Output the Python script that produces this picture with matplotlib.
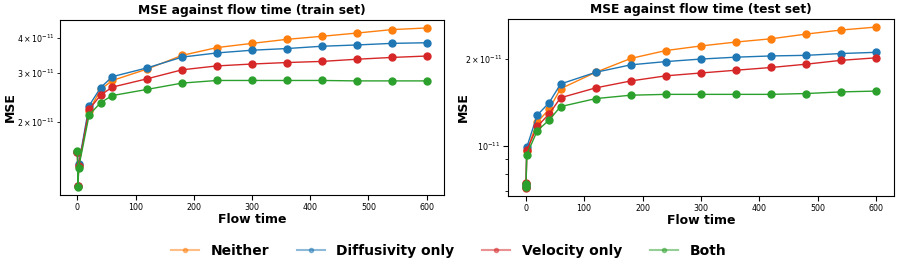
import matplotlib.pyplot as plt
from matplotlib.lines import Line2D

flow_time = [0, 1, 2, 20, 40, 60, 120, 180, 240, 300, 360, 420, 480, 540, 600]
labels = ["Neither", "Diffusivity only", "Velocity only", "Both"]
colors = ["tab:orange", "tab:blue", "tab:red", "tab:green"]

# train set MSE (x 1e-11)
train_neither = [1.56, 1.18, 1.40, 2.20, 2.62, 2.82, 3.10, 3.47, 3.70, 3.83, 3.96, 4.06, 4.17, 4.29, 4.35]
train_diff = [1.56, 1.18, 1.41, 2.29, 2.66, 2.91, 3.13, 3.42, 3.54, 3.62, 3.67, 3.74, 3.78, 3.83, 3.85]
train_vel = [1.56, 1.18, 1.39, 2.22, 2.50, 2.67, 2.86, 3.08, 3.18, 3.23, 3.27, 3.30, 3.36, 3.41, 3.45]
train_both = [1.57, 1.17, 1.37, 2.12, 2.35, 2.49, 2.62, 2.76, 2.82, 2.82, 2.82, 2.82, 2.81, 2.81, 2.81]

# test set MSE (x 1e-11)
test_neither = [0.72, 0.74, 0.96, 1.21, 1.34, 1.58, 1.80, 2.01, 2.14, 2.22, 2.29, 2.35, 2.44, 2.52, 2.58]
test_diff = [0.72, 0.74, 0.99, 1.28, 1.41, 1.64, 1.80, 1.91, 1.96, 2.00, 2.03, 2.05, 2.06, 2.09, 2.11]
test_vel = [0.717, 0.744, 0.966, 1.17, 1.29, 1.47, 1.59, 1.68, 1.75, 1.79, 1.83, 1.87, 1.92, 1.98, 2.02]
test_both = [0.72, 0.74, 0.934, 1.13, 1.23, 1.37, 1.46, 1.50, 1.51, 1.51, 1.51, 1.51, 1.52, 1.54, 1.55]

train = [train_neither, train_diff, train_vel, train_both]
test = [test_neither, test_diff, test_vel, test_both]

fig = plt.figure(figsize=(8.97, 2.69), dpi=100)
ax1 = fig.add_axes([60 / 897, 74 / 269, 384 / 897, 175 / 269])
ax2 = fig.add_axes([508 / 897, 73 / 269, 386 / 897, 177 / 269])

for ax, data, title, ylx in [(ax1, train, "MSE against flow time (train set)", -0.112),
                             (ax2, test, "MSE against flow time (test set)", -0.10)]:
    for vals, c in zip(data, colors):
        ax.plot(flow_time, [v * 1e-11 for v in vals], marker="o", color=c,
                markersize=5, linewidth=1)
    ax.set_yscale("log")
    ax.set_title(title, fontsize=8.8, fontweight="bold", pad=4)
    ax.set_xlabel("Flow time", fontsize=9, fontweight="bold", labelpad=1)
    ax.set_ylabel("MSE", fontsize=9, fontweight="bold")
    ax.yaxis.set_label_coords(ylx, 0.5)
    ax.tick_params(labelsize=5.7, which="both", pad=2)

handles = [Line2D([0], [0], color=c, alpha=0.5, linewidth=1.5, marker="o",
                  markersize=3, markerfacecolor=c, markeredgecolor=c)
           for c in colors]
fig.legend(handles, labels, loc="center", bbox_to_anchor=(0.5, 18 / 269),
           ncol=4, frameon=False, prop={"weight": "bold", "size": 10},
           handlelength=2.0, handletextpad=0.85, columnspacing=2.0)

fig.savefig("out.png", dpi=100)
